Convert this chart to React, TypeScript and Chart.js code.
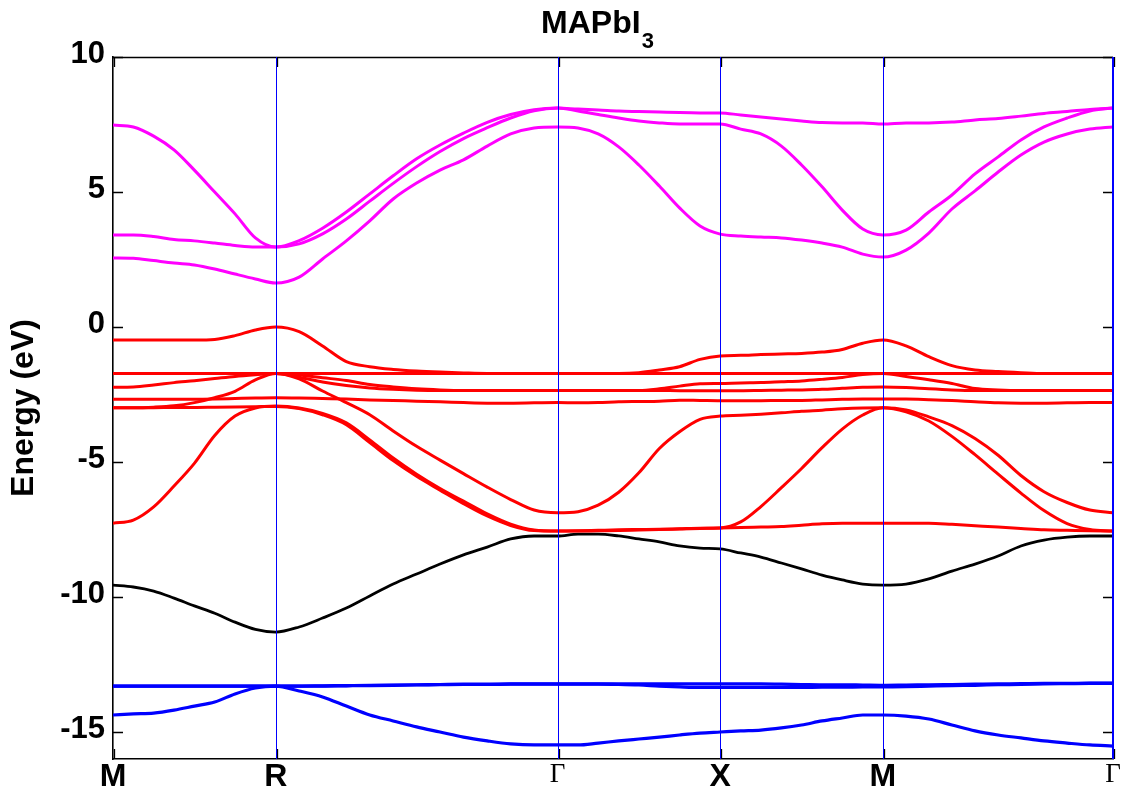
import React, { useEffect, useRef } from 'react';
import { Chart, registerables } from 'chart.js';

Chart.register(...registerables);

// k-path sample positions (distance along M-R-Γ-X-M-Γ, units of 2π/a)
const K = [
  0, 0.0625, 0.125, 0.1875, 0.25, 0.3125, 0.375, 0.4375, 0.5,
  0.572, 0.644, 0.717, 0.789, 0.861, 0.933, 1.005, 1.077, 1.15, 1.222, 1.294, 1.366,
  1.429, 1.491, 1.554, 1.616, 1.679, 1.741, 1.804, 1.866,
  1.929, 1.991, 2.054, 2.116, 2.179, 2.241, 2.304, 2.366,
  2.437, 2.507, 2.578, 2.649, 2.72, 2.79, 2.861, 2.932, 3.002, 3.073,
];

const SYM_K = [0, 0.5, 1.366, 1.866, 2.366, 3.073];
const SYM_LABELS = ['M', 'R', 'Γ', 'X', 'M', 'Γ'];
const Y_TICKS = [10, 5, 0, -5, -10, -15];

// conduction bands (magenta)
const CB1 = [
  2.56, 2.55, 2.46, 2.37, 2.3, 2.15, 1.96, 1.78, 1.63,
  1.85, 2.52, 3.19, 3.93, 4.74, 5.33, 5.81, 6.19, 6.7, 7.15, 7.37, 7.41,
  7.37, 7.15, 6.67, 6.0, 5.22, 4.41, 3.74, 3.44,
  3.37, 3.33, 3.3, 3.22, 3.11, 2.96, 2.7, 2.59,
  2.85, 3.48, 4.37, 5.04, 5.74, 6.37, 6.85, 7.15, 7.33, 7.41,
];
const CB2 = [
  3.41, 3.41, 3.35, 3.24, 3.19, 3.11, 3.02, 2.96, 2.96,
  3.08, 3.45, 4.0, 4.66, 5.32, 5.94, 6.5, 6.98, 7.38, 7.74, 8.01, 8.11,
  8.0, 7.87, 7.74, 7.63, 7.56, 7.52, 7.52, 7.52,
  7.33, 7.15, 6.7, 6.0, 5.19, 4.33, 3.63, 3.41,
  3.59, 4.26, 4.89, 5.67, 6.3, 6.93, 7.41, 7.74, 8.0, 8.11,
];
const CB3 = [
  7.48, 7.41, 7.07, 6.56, 5.81, 5.0, 4.19, 3.3, 2.96,
  3.2, 3.66, 4.26, 4.93, 5.6, 6.23, 6.74, 7.18, 7.58, 7.87, 8.05, 8.11,
  8.07, 8.04, 8.0, 7.98, 7.96, 7.94, 7.93, 7.93,
  7.85, 7.78, 7.7, 7.63, 7.57, 7.56, 7.56, 7.52,
  7.56, 7.56, 7.59, 7.67, 7.72, 7.81, 7.91, 7.98, 8.06, 8.11,
];

// valence bands (red)
const VB1 = [
  -0.48, -0.48, -0.48, -0.48, -0.48, -0.46, -0.32, -0.11, 0.0,
  -0.17, -0.7, -1.28, -1.47, -1.57, -1.63, -1.67, -1.7, -1.72, -1.72, -1.72, -1.72,
  -1.72, -1.72, -1.72, -1.69, -1.59, -1.47, -1.2, -1.07,
  -1.05, -1.02, -1.0, -0.98, -0.93, -0.83, -0.6, -0.48,
  -0.7, -1.1, -1.43, -1.59, -1.65, -1.69, -1.72, -1.72, -1.72, -1.72,
];
const VB2 = [
  -1.72, -1.72, -1.72, -1.72, -1.72, -1.72, -1.72, -1.72, -1.72,
  -1.72, -1.72, -1.72, -1.72, -1.72, -1.72, -1.72, -1.72, -1.72, -1.72, -1.72, -1.72,
  -1.72, -1.72, -1.72, -1.72, -1.72, -1.72, -1.72, -1.72,
  -1.72, -1.72, -1.72, -1.72, -1.72, -1.72, -1.72, -1.72,
  -1.72, -1.72, -1.72, -1.72, -1.72, -1.72, -1.72, -1.72, -1.72, -1.72,
];
const VB3 = [
  -2.23, -2.22, -2.15, -2.06, -1.99, -1.91, -1.83, -1.77, -1.72,
  -1.78, -1.88, -1.98, -2.13, -2.22, -2.29, -2.33, -2.35, -2.35, -2.35, -2.35, -2.35,
  -2.35, -2.35, -2.35, -2.35, -2.35, -2.36, -2.36, -2.36,
  -2.36, -2.35, -2.34, -2.33, -2.31, -2.27, -2.23, -2.22,
  -2.24, -2.29, -2.33, -2.35, -2.35, -2.35, -2.35, -2.35, -2.35, -2.35,
];
const VB4 = [
  -2.99, -2.99, -2.97, -2.92, -2.8, -2.62, -2.38, -1.96, -1.72,
  -1.86, -2.04, -2.17, -2.26, -2.31, -2.34, -2.35, -2.35, -2.35, -2.35, -2.35, -2.35,
  -2.35, -2.35, -2.35, -2.35, -2.29, -2.19, -2.1, -2.09,
  -2.07, -2.06, -2.03, -2.0, -1.94, -1.87, -1.76, -1.72,
  -1.83, -1.95, -2.09, -2.28, -2.33, -2.35, -2.35, -2.35, -2.35, -2.35,
];
const VB5 = [
  -2.68, -2.68, -2.68, -2.68, -2.68, -2.67, -2.65, -2.63, -2.62,
  -2.63, -2.65, -2.67, -2.7, -2.72, -2.75, -2.77, -2.8, -2.82, -2.82, -2.81, -2.8,
  -2.81, -2.8, -2.77, -2.76, -2.75, -2.71, -2.72, -2.73,
  -2.73, -2.73, -2.72, -2.72, -2.7, -2.68, -2.67, -2.67,
  -2.67, -2.69, -2.72, -2.77, -2.81, -2.82, -2.82, -2.81, -2.8, -2.8,
];
const VB6 = [
  -2.99, -2.99, -2.99, -2.98, -2.98, -2.97, -2.96, -2.95, -2.94,
  -3.02, -3.25, -3.62, -4.28, -4.95, -5.53, -6.04, -6.54, -7.0, -7.35, -7.54, -7.56,
  -7.55, -7.53, -7.51, -7.5, -7.49, -7.47, -7.45, -7.44,
  -7.22, -6.65, -5.95, -5.24, -4.47, -3.78, -3.26, -2.99,
  -3.14, -3.48, -4.05, -4.73, -5.45, -6.15, -6.8, -7.28, -7.5, -7.56,
];
const VB7 = [
  -7.27, -7.15, -6.66, -5.89, -5.05, -4.02, -3.3, -3.0, -2.93,
  -3.0, -3.2, -3.55, -4.18, -4.85, -5.45, -5.98, -6.45, -6.92, -7.3, -7.52, -7.56,
  -7.56, -7.55, -7.54, -7.52, -7.5, -7.48, -7.46, -7.44,
  -7.43, -7.41, -7.39, -7.34, -7.29, -7.27, -7.27, -7.27,
  -7.27, -7.27, -7.31, -7.36, -7.41, -7.46, -7.51, -7.53, -7.55, -7.56,
];
const VB8 = [
  -1.72, -1.72, -1.72, -1.72, -1.72, -1.72, -1.72, -1.72, -1.72,
  -1.92, -2.37, -2.8, -3.25, -3.85, -4.42, -4.93, -5.43, -5.93, -6.39, -6.78, -6.88,
  -6.84, -6.6, -6.12, -5.4, -4.5, -3.88, -3.42, -3.3,
  -3.27, -3.23, -3.18, -3.12, -3.08, -3.03, -3.0, -2.99,
  -3.07, -3.33, -3.65, -4.13, -4.75, -5.5, -6.1, -6.5, -6.78, -6.88,
];

// deeper band (black)
const DEEP = [
  -9.56, -9.63, -9.78, -10.04, -10.33, -10.6, -10.93, -11.2, -11.3,
  -11.11, -10.78, -10.41, -9.96, -9.52, -9.15, -8.78, -8.44, -8.15, -7.85, -7.74, -7.74,
  -7.67, -7.67, -7.74, -7.85, -7.96, -8.11, -8.19, -8.22,
  -8.37, -8.52, -8.74, -8.96, -9.19, -9.37, -9.52, -9.56,
  -9.52, -9.33, -9.04, -8.78, -8.48, -8.11, -7.89, -7.78, -7.74, -7.74,
];

// semicore bands (blue)
const SB1 = [
  -13.3, -13.3, -13.3, -13.3, -13.3, -13.3, -13.3, -13.3, -13.3,
  -13.3, -13.29, -13.28, -13.27, -13.26, -13.25, -13.24, -13.23, -13.23, -13.22, -13.22, -13.22,
  -13.22, -13.22, -13.22, -13.22, -13.22, -13.22, -13.22, -13.22,
  -13.22, -13.22, -13.23, -13.24, -13.25, -13.25, -13.26, -13.27,
  -13.26, -13.25, -13.24, -13.23, -13.22, -13.21, -13.2, -13.2, -13.19, -13.19,
];
const SB2 = [
  -13.3, -13.3, -13.3, -13.3, -13.3, -13.3, -13.3, -13.3, -13.3,
  -13.3, -13.3, -13.29, -13.28, -13.27, -13.26, -13.25, -13.24, -13.24, -13.23, -13.23, -13.23,
  -13.23, -13.23, -13.24, -13.26, -13.3, -13.33, -13.35, -13.35,
  -13.35, -13.35, -13.35, -13.35, -13.34, -13.34, -13.33, -13.33,
  -13.32, -13.3, -13.28, -13.27, -13.25, -13.24, -13.22, -13.21, -13.2, -13.2,
];
const SB3 = [
  -14.37, -14.33, -14.3, -14.19, -14.04, -13.89, -13.59, -13.37, -13.3,
  -13.48, -13.7, -14.04, -14.37, -14.59, -14.81, -15.0, -15.19, -15.33, -15.44, -15.48, -15.48,
  -15.48, -15.41, -15.33, -15.26, -15.19, -15.11, -15.04, -15.0,
  -14.96, -14.93, -14.85, -14.74, -14.59, -14.48, -14.37, -14.37,
  -14.41, -14.52, -14.74, -14.96, -15.11, -15.22, -15.33, -15.41, -15.48, -15.52,
];

const MAGENTA = '#ff00ff';
const RED = '#ff0000';
const BLACK = '#000000';
const BLUE = '#0000ff';
const SANS = '"Liberation Sans", Arial, Helvetica, sans-serif';
const SERIF = '"Liberation Serif", "Times New Roman", serif';

const BANDS: { values: number[]; color: string; width: number }[] = [
  { values: CB1, color: MAGENTA, width: 3 },
  { values: CB2, color: MAGENTA, width: 3 },
  { values: CB3, color: MAGENTA, width: 3 },
  { values: VB1, color: RED, width: 3 },
  { values: VB2, color: RED, width: 3 },
  { values: VB3, color: RED, width: 3 },
  { values: VB4, color: RED, width: 3 },
  { values: VB5, color: RED, width: 3 },
  { values: VB6, color: RED, width: 3 },
  { values: VB7, color: RED, width: 3 },
  { values: VB8, color: RED, width: 3 },
  { values: DEEP, color: BLACK, width: 2.8 },
  { values: SB1, color: BLUE, width: 3.2 },
  { values: SB2, color: BLUE, width: 3.2 },
  { values: SB3, color: BLUE, width: 3.2 },
];

// frame, inward tick marks and the high-symmetry vertical lines
const framePlugin = {
  id: 'frameTicks',
  afterDatasetsDraw(chart: any) {
    const { ctx, scales } = chart;
    const xs = scales.x;
    const ys = scales.y;
    const left = xs.getPixelForValue(SYM_K[0]);
    const right = xs.getPixelForValue(SYM_K[SYM_K.length - 1]);
    const top = ys.getPixelForValue(10);
    const bottom = ys.getPixelForValue(-16);
    ctx.save();
    // black inward ticks
    ctx.strokeStyle = '#000';
    ctx.lineWidth = 1.3;
    ctx.beginPath();
    for (const t of Y_TICKS) {
      const py = Math.round(ys.getPixelForValue(t)) + 0.5;
      ctx.moveTo(left, py);
      ctx.lineTo(left + 10, py);
      ctx.moveTo(right - 10, py);
      ctx.lineTo(right, py);
    }
    for (const k of SYM_K) {
      const px = Math.round(xs.getPixelForValue(k)) + 1.5;
      ctx.moveTo(px, bottom);
      ctx.lineTo(px, bottom - 10);
      ctx.moveTo(px, top);
      ctx.lineTo(px, top + 10);
    }
    ctx.stroke();
    // top frame line
    ctx.lineWidth = 1.6;
    ctx.beginPath();
    ctx.moveTo(left, Math.round(top) + 0.5);
    ctx.lineTo(right, Math.round(top) + 0.5);
    ctx.stroke();
    // vertical blue lines at the high-symmetry points
    ctx.strokeStyle = BLUE;
    for (let i = 1; i < SYM_K.length; i++) {
      const last = i === SYM_K.length - 1;
      ctx.lineWidth = last ? 2 : 1;
      const px = Math.round(xs.getPixelForValue(SYM_K[i])) + (last ? 0 : 0.5);
      ctx.beginPath();
      ctx.moveTo(px, top);
      ctx.lineTo(px, bottom);
      ctx.stroke();
    }
    ctx.restore();
  },
};

const titlePlugin = {
  id: 'subTitle',
  afterDraw(chart: any) {
    const { ctx, chartArea } = chart;
    const main = 'MAPbI';
    const sub = '3';
    ctx.save();
    ctx.fillStyle = '#000';
    ctx.textBaseline = 'alphabetic';
    ctx.textAlign = 'left';
    ctx.font = `bold 32px ${SANS}`;
    const w1 = ctx.measureText(main).width;
    ctx.font = `bold 22px ${SANS}`;
    const w2 = ctx.measureText(sub).width;
    const center = chartArea.left + chartArea.width * 0.484;
    const x0 = center - (w1 + w2) / 2;
    ctx.font = `bold 32px ${SANS}`;
    ctx.fillText(main, x0, 33);
    ctx.font = `bold 22px ${SANS}`;
    ctx.fillText(sub, x0 + w1 + 1, 48);
    ctx.restore();
  },
};

export default function App() {
  const canvasRef = useRef<HTMLCanvasElement | null>(null);

  useEffect(() => {
    if (!canvasRef.current) return;
    const chart = new Chart(canvasRef.current, {
      type: 'line',
      data: {
        datasets: BANDS.map((b) => ({
          data: K.map((k, i) => ({ x: k, y: b.values[i] })),
          borderColor: b.color,
          backgroundColor: b.color,
          borderWidth: b.width,
          pointRadius: 0,
          pointHoverRadius: 0,
          fill: false,
          cubicInterpolationMode: 'monotone' as const,
          borderJoinStyle: 'round' as const,
        })),
      },
      options: {
        animation: false,
        responsive: true,
        maintainAspectRatio: false,
        events: [],
        layout: { padding: { top: 57, right: 15, bottom: 0, left: 0 } },
        plugins: {
          legend: { display: false },
          tooltip: { enabled: false },
          title: { display: false },
        },
        scales: {
          x: {
            type: 'linear',
            min: 0,
            max: 3.073,
            afterBuildTicks: (s: any) => {
              s.ticks = SYM_K.map((v) => ({ value: v }));
            },
            afterFit: (s: any) => {
              s.height = 34;
            },
            grid: { display: false, drawTicks: false },
            border: { color: '#000', width: 1.6 },
            ticks: {
              autoSkip: false,
              maxRotation: 0,
              minRotation: 0,
              padding: 2,
              color: '#000',
              callback: (_v: any, i: number) => SYM_LABELS[i],
              font: (c: any) =>
                SYM_LABELS[c.index] === 'Γ'
                  ? { family: SERIF, size: 27, weight: 'normal', lineHeight: 1 }
                  : { family: SANS, size: 32, weight: 'bold', lineHeight: 1 },
            },
          },
          y: {
            type: 'linear',
            min: -16,
            max: 10,
            afterBuildTicks: (s: any) => {
              s.ticks = Y_TICKS.map((v) => ({ value: v }));
            },
            afterFit: (s: any) => {
              s.width = 113;
            },
            grid: { display: false, drawTicks: false },
            border: { color: '#000', width: 1.6 },
            ticks: {
              padding: 8,
              labelOffset: -3,
              color: '#000',
              font: { family: SANS, size: 31, weight: 'bold' },
              callback: (v: any) => String(v),
            },
            title: {
              display: true,
              text: 'Energy (eV)',
              color: '#000',
              font: { family: SANS, size: 32, weight: 'bold' },
              padding: { top: 5, bottom: 0 },
            },
          },
        },
      } as any,
      plugins: [framePlugin, titlePlugin],
    });
    return () => chart.destroy();
  }, []);

  return (
    <div style={{ position: 'absolute', left: 0, top: 0, width: 1128, height: 793, background: '#fff' }}>
      <canvas ref={canvasRef} />
    </div>
  );
}
